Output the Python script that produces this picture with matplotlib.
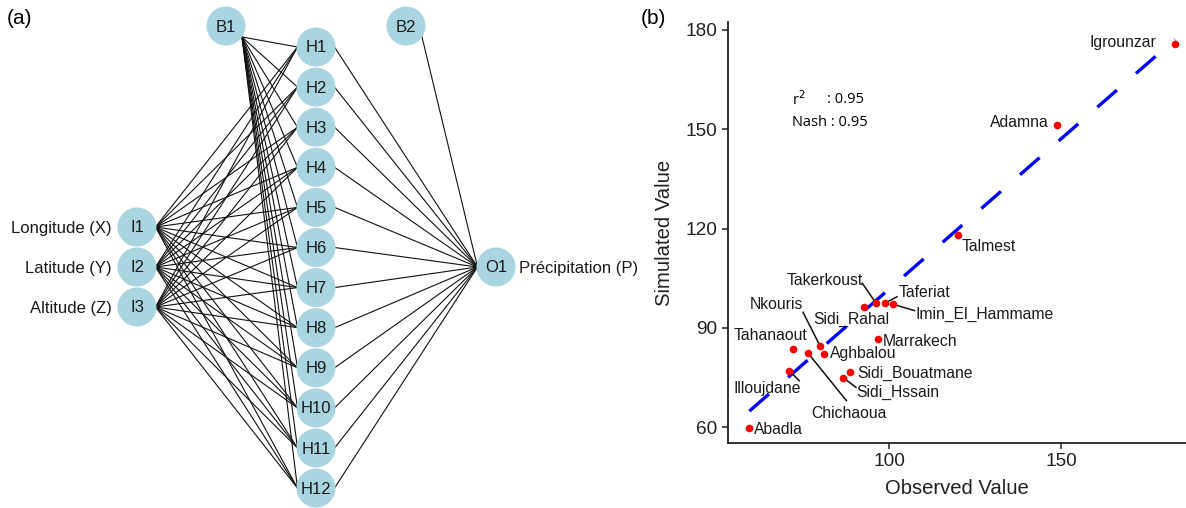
import numpy as np
import matplotlib
matplotlib.use("Agg")
import matplotlib.pyplot as plt
from matplotlib.patches import Circle

plt.rcParams['font.family'] = ['Liberation Sans', 'DejaVu Sans']

# ---- data for panel (b) ----
stations = ["Abadla", "Illoujdane", "Tahanaout", "Chichaoua", "Nkouris", "Aghbalou",
            "Sidi_Hssain", "Sidi_Bouatmane", "Sidi_Rahal", "Takerkoust", "Taferiat",
            "Imin_El_Hammame", "Marrakech", "Talmest", "Adamna", "Igrounzar"]
observed = [59.4, 71.0, 72.2, 76.5, 79.9, 81.2, 86.7, 88.7, 92.6, 96.1, 98.7,
            101.2, 96.7, 120.0, 148.8, 183.1]
simulated = [59.8, 77.0, 83.6, 82.3, 84.6, 82.0, 74.9, 76.6, 96.2, 97.6, 97.4,
             97.1, 86.7, 117.9, 151.2, 175.8]
# fitted line
fit_slope = 0.908
fit_intercept = 10.9
r2_txt = "0.95"
nash_txt = "0.95"

# label placement (data coords), alignment, and whether a leader segment is drawn
label_pos = {
    "Abadla": (60.8, 59.4, "left", False),
    "Illoujdane": (74.4, 71.8, "right", True),
    "Tahanaout": (76.2, 87.8, "right", False),
    "Chichaoua": (77.3, 64.2, "left", True),
    "Nkouris": (75.0, 96.9, "right", True),
    "Aghbalou": (82.8, 82.1, "left", False),
    "Sidi_Hssain": (90.4, 70.6, "left", True),
    "Sidi_Bouatmane": (90.7, 76.3, "left", False),
    "Sidi_Rahal": (77.9, 92.6, "left", False),
    "Takerkoust": (92.4, 104.4, "right", True),
    "Taferiat": (102.9, 100.8, "left", True),
    "Imin_El_Hammame": (107.8, 94.1, "left", True),
    "Marrakech": (98.3, 86.0, "left", False),
    "Talmest": (121.2, 114.7, "left", False),
    "Adamna": (146.5, 152.1, "right", False),
    "Igrounzar": (177.6, 176.1, "right", False),
}
seg_ends = {
    "Illoujdane": (73.9, 74.0),
    "Chichaoua": (87.6, 68.0),
    "Nkouris": (75.0, 94.7),
    "Sidi_Hssain": (90.4, 72.0),
    "Takerkoust": (92.2, 103.5),
    "Taferiat": (102.3, 99.4),
    "Imin_El_Hammame": (107.4, 95.2),
}

# ---- network for panel (a) ----
inputs = ["I1", "I2", "I3"]
input_names = ["Longitude (X)", "Latitude (Y)", "Altitude (Z)"]
hidden = ["H%d" % i for i in range(1, 13)]
output = "O1"
output_name = "Précipitation (P)"

W, H = 1186, 508
fig = plt.figure(figsize=(W / 100, H / 100), dpi=100)

# panel (a) drawn in pixel coordinates
axa = fig.add_axes([0, 0, 1, 1])
axa.set_xlim(0, W)
axa.set_ylim(H, 0)
axa.axis("off")

r = 19.5
node_col = "#A9D5E0"
pos = {}
for i, n in enumerate(inputs):
    pos[n] = (137, 227 + 40 * i)
for i, n in enumerate(hidden):
    pos[n] = (316, 47 + 40.1 * i)
pos["B1"] = (226, 26)
pos["B2"] = (406, 26)
pos[output] = (496, 267)

edges = []
for h in hidden:
    edges.append(("B1", h))
    for n in inputs:
        edges.append((n, h))
    edges.append((h, output))
edges.append(("B2", output))
for a, b in edges:
    (x0, y0), (x1, y1) = pos[a], pos[b]
    if a.startswith("B"):
        x0, y0 = x0 + 16, y0 + 11
    else:
        x0 = x0 + r - 1
    x1 = x1 - r + 1
    axa.plot([x0, x1], [y0, y1], color="#111111", lw=0.8, zorder=1)

for n, (x, y) in pos.items():
    axa.add_patch(Circle((x, y), r, color=node_col, zorder=2, lw=0))
    axa.text(x, y + 1, n, ha="center", va="center", fontsize=12, color="#1a1a1a", zorder=3)

for n, name in zip(inputs, input_names):
    x, y = pos[n]
    axa.text(x - 25, y + 1, name, ha="right", va="center", fontsize=12, color="#1a1a1a")
axa.text(pos[output][0] + 23, pos[output][1] + 1, output_name, ha="left", va="center",
         fontsize=12, color="#1a1a1a")
axa.text(7, 19, "(a)", ha="left", va="center", fontsize=15)
axa.text(641, 19, "(b)", ha="left", va="center", fontsize=15)

# panel (b)
axb = fig.add_axes([727.7 / W, 65 / H, (W - 727.7) / W, (443 - 22) / H])
axb.set_xlim(53.1, 186.3)
axb.set_ylim(55.2, 182.4)
for s in ["top", "right"]:
    axb.spines[s].set_visible(False)
for s in ["left", "bottom"]:
    axb.spines[s].set_linewidth(1.3)
    axb.spines[s].set_color("#222222")
axb.set_xticks([100, 150])
axb.set_yticks([60, 90, 120, 150, 180])
axb.tick_params(labelsize=13.7, length=4, width=1.1, colors="#222222", labelcolor="#222222")
axb.set_xlabel("Observed Value", fontsize=14.6, color="#222222", labelpad=6)
axb.set_ylabel("Simulated Value", fontsize=14.6, color="#222222", labelpad=8)
axb.patch.set_alpha(0)

obs = np.array(observed)
sim = np.array(simulated)
xs = np.array([obs.min(), obs.max()])
axb.plot(xs, fit_slope * xs + fit_intercept, color="blue", lw=2.4, dashes=(7.8, 7.6),
         solid_capstyle="butt", dash_capstyle="butt", zorder=2)
axb.scatter(obs, sim, s=30, color="red", lw=0, zorder=3)

for st, xo, yo in zip(stations, observed, simulated):
    lx, ly, ha, seg = label_pos[st]
    if seg:
        ex, ey = seg_ends[st]
        axb.plot([ex, xo], [ey, yo], color="#111111", lw=1.1, zorder=2)
    axb.text(lx, ly, st, ha=ha, va="center", fontsize=11.3, color="#1a1a1a", zorder=4)

axb.text(71.8, 158.9, "r$^2$", ha="left", va="center", fontsize=10.5, family=["Open Sans", "DejaVu Sans"])
axb.text(82.0, 158.9, ": " + r2_txt, ha="left", va="center", fontsize=10.5, family=["Open Sans", "DejaVu Sans"])
axb.text(71.8, 151.9, "Nash : " + nash_txt, ha="left", va="center", fontsize=10.5, family=["Open Sans", "DejaVu Sans"])

fig.savefig("out.png", dpi=100)
